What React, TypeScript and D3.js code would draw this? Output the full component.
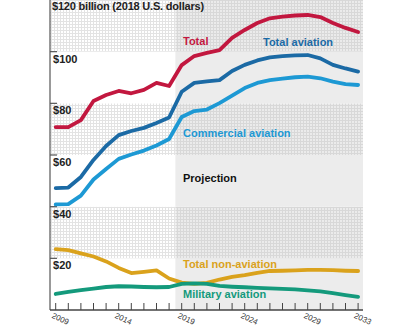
import * as d3 from "d3";

const years = d3.range(2009, 2034);
const total = [70.8, 70.8, 73.5, 80.9, 83.2, 84.8, 83.9, 85.2, 87.9, 86.7, 94.8, 98.3, 99.5, 100.6, 105.3, 108.4, 111.1, 112.9, 113.6, 114.0, 114.2, 113.4, 111.1, 109.2, 107.6];
const totalAviation = [47.2, 47.4, 51.5, 58.1, 63.5, 67.7, 69.3, 70.5, 72.4, 74.5, 84.5, 87.9, 88.5, 89.0, 92.5, 94.9, 96.6, 97.8, 98.3, 98.6, 98.7, 97.4, 94.9, 93.5, 92.3];
const commercial = [40.9, 41.0, 44.3, 50.5, 54.6, 58.5, 60.2, 61.7, 63.7, 66.2, 74.7, 77.0, 77.6, 80.1, 83.0, 85.9, 87.9, 89.0, 89.6, 90.1, 90.3, 89.7, 88.4, 87.4, 87.1];
const nonAviation = [23.6, 23.2, 21.9, 20.7, 18.8, 16.3, 14.3, 14.8, 15.3, 12.2, 10.6, 10.1, 10.5, 11.8, 12.8, 13.5, 14.4, 15.1, 15.2, 15.3, 15.5, 15.5, 15.4, 15.2, 15.1];
const military = [6.2, 7.0, 7.7, 8.3, 8.9, 9.2, 9.1, 8.9, 8.8, 8.9, 10.1, 10.3, 10.1, 9.3, 9.0, 8.8, 8.6, 8.4, 8.2, 8.0, 7.6, 7.2, 6.5, 5.8, 5.1];

const yTicks = [100, 80, 60, 40, 20];
const xLabelYears = [2009, 2014, 2019, 2024, 2029, 2033];
const projectionStart = 2018.5;

const series = [
  { name: "Total", values: total, color: "#c2173f" },
  { name: "Total aviation", values: totalAviation, color: "#1b6aa5" },
  { name: "Commercial aviation", values: commercial, color: "#1d99d4" },
  { name: "Total non-aviation", values: nonAviation, color: "#daa21c" },
  { name: "Military aviation", values: military, color: "#149a7c" },
];

const FONT = "'Liberation Sans', Arial, Helvetica, sans-serif";

export default function App() {
  const W = 420;
  const H = 326;
  const left = 50;
  const right = 363;
  const x = d3.scaleLinear().domain([2009, 2033]).range([55.7, 358.1]);
  const y = d3.scaleLinear().domain([0, 120]).range([310, 0]);
  const projX = x(projectionStart);

  const line = d3
    .line<number>()
    .x((_, i) => x(years[i]))
    .y((d) => y(d))
    .curve(d3.curveLinear);

  // bands every $20: dotted on [120,100], [80,60], [40,20]
  const bands = [0, 20, 40, 60, 80, 100].map((lo) => ({ lo, hi: lo + 20, dotted: (lo / 20) % 2 === 1 }));

  return (
    <svg width={W} height={H} style={{ position: "absolute", left: 0, top: 0 }} fontFamily={FONT}>
      <defs>
        <pattern id="gridL" width="3" height="3" patternUnits="userSpaceOnUse">
          <rect width="3" height="3" fill="#ffffff" />
          <rect width="3" height="1" fill="#e3e3e3" />
          <rect width="1" height="3" fill="#e3e3e3" />
        </pattern>
        <pattern id="gridR" width="3" height="3" patternUnits="userSpaceOnUse">
          <rect width="3" height="3" fill="#ebebeb" />
          <rect width="3" height="1" fill="#d8d8d8" />
          <rect width="1" height="3" fill="#d8d8d8" />
        </pattern>
      </defs>
      <rect width={W} height={H} fill="#fff" />
      {bands.map((b) => (
        <g key={b.lo}>
          <rect
            x={left}
            y={y(b.hi)}
            width={projX - left}
            height={y(b.lo) - y(b.hi)}
            fill={b.dotted ? "url(#gridL)" : "#ffffff"}
          />
          <rect
            x={projX}
            y={y(b.hi)}
            width={right - projX}
            height={y(b.lo) - y(b.hi)}
            fill={b.dotted ? "url(#gridR)" : "#ececec"}
          />
        </g>
      ))}

      {/* axes */}
      <line x1={left} x2={left} y1={0} y2={y(0)} stroke="#555" strokeWidth={1.2} />
      <line x1={left} x2={right} y1={y(0)} y2={y(0)} stroke="#444" strokeWidth={1.5} />
      {yTicks.map((t) => (
        <line key={t} x1={left} x2={left + 7} y1={y(t)} y2={y(t)} stroke="#555" strokeWidth={1.2} />
      ))}
      {years.map((yr) => (
        <line key={yr} x1={x(yr)} x2={x(yr)} y1={y(0)} y2={y(0) - 7} stroke="#444" strokeWidth={1} />
      ))}

      {/* y labels */}
      <text x={52} y={10} fontSize={11} fontWeight="bold" fill="#222" letterSpacing={-0.2}>
        $120 billion (2018 U.S. dollars)
      </text>
      {yTicks.map((t) => (
        <text key={t} x={53} y={y(t) + 11} fontSize={11} fontWeight="bold" fill="#222">
          ${t}
        </text>
      ))}

      {/* x labels */}
      {xLabelYears.map((yr) => (
        <text
          key={yr}
          transform={`translate(${x(yr) - 2},${y(0) + 2}) rotate(25)`}
          y={6}
          fontSize={8}
          fill="#333"
        >
          {yr}
        </text>
      ))}

      {/* lines */}
      {series.map((s) => (
        <path
          key={s.name}
          d={line(s.values) || ""}
          fill="none"
          stroke={s.color}
          strokeWidth={3.8}
          strokeLinejoin="round"
          strokeLinecap="round"
        />
      ))}

      {/* labels */}
      <text x={183} y={45} fontSize={11} fontWeight="bold" fill={series[0].color}>Total</text>
      <text x={263} y={46} fontSize={11} fontWeight="bold" fill={series[1].color}>Total aviation</text>
      <text x={183} y={137} fontSize={11} fontWeight="bold" fill={series[2].color}>Commercial aviation</text>
      <text x={183} y={182} fontSize={11} fontWeight="bold" fill="#111">Projection</text>
      <text x={183} y={268} fontSize={11} fontWeight="bold" fill={series[3].color}>Total non-aviation</text>
      <text x={183} y={298} fontSize={11} fontWeight="bold" fill={series[4].color}>Military aviation</text>
    </svg>
  );
}
